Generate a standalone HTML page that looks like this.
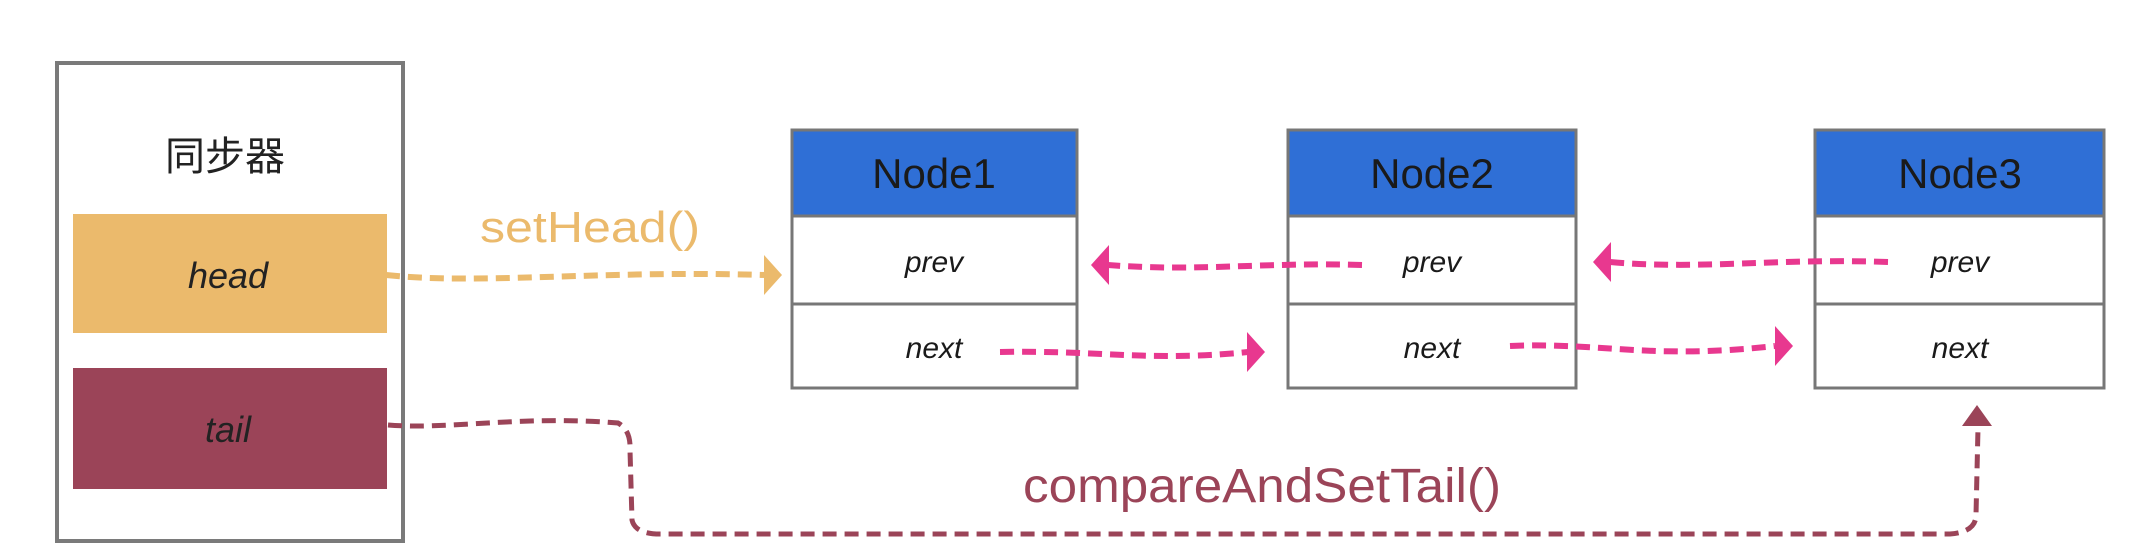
<!DOCTYPE html>
<html><head><meta charset="utf-8"><style>
html,body{margin:0;padding:0;background:#fff;width:2152px;height:550px;overflow:hidden}
text{font-family:"Liberation Sans","Noto Sans CJK SC",sans-serif}
</style></head><body>
<svg width="2152" height="550" viewBox="0 0 2152 550" xmlns="http://www.w3.org/2000/svg">
<!-- synchronizer box -->
<rect x="57" y="63" width="346" height="478" fill="#fff" stroke="#7a7a7a" stroke-width="4"/>
<text x="225" y="170" font-size="40" text-anchor="middle" fill="#222">同步器</text>
<rect x="73" y="214" width="314" height="119" fill="#ebba6c"/>
<text x="228" y="288" font-size="36" text-anchor="middle" fill="#222" font-style="italic">head</text>
<rect x="73" y="368" width="314" height="121" fill="#9b4458"/>
<text x="228" y="442" font-size="36" text-anchor="middle" fill="#222" font-style="italic">tail</text>

<!-- nodes -->
<g stroke="#777" stroke-width="3">
<rect x="792" y="130" width="285" height="86" fill="#2f6fd6"/>
<rect x="792" y="216" width="285" height="88" fill="#fff"/>
<rect x="792" y="304" width="285" height="84" fill="#fff"/>
<rect x="1288" y="130" width="288" height="86" fill="#2f6fd6"/>
<rect x="1288" y="216" width="288" height="88" fill="#fff"/>
<rect x="1288" y="304" width="288" height="84" fill="#fff"/>
<rect x="1815" y="130" width="289" height="86" fill="#2f6fd6"/>
<rect x="1815" y="216" width="289" height="88" fill="#fff"/>
<rect x="1815" y="304" width="289" height="84" fill="#fff"/>
</g>
<g font-size="42" text-anchor="middle" fill="#1a1a1a">
<text x="934" y="188">Node1</text>
<text x="1432" y="188">Node2</text>
<text x="1960" y="188">Node3</text>
</g>
<g font-size="30" text-anchor="middle" fill="#1a1a1a" font-style="italic">
<text x="934" y="272">prev</text>
<text x="934" y="358">next</text>
<text x="1432" y="272">prev</text>
<text x="1432" y="358">next</text>
<text x="1960" y="272">prev</text>
<text x="1960" y="358">next</text>
</g>

<!-- setHead -->
<text x="480" y="242" font-size="44" fill="#ebba6c" textLength="220" lengthAdjust="spacingAndGlyphs">setHead()</text>
<path d="M386,275 C480,285 600,270 765,275" fill="none" stroke="#ebba6c" stroke-width="6" stroke-dasharray="14,8"/>
<path d="M782,275 L764,255 L764,295 Z" fill="#ebba6c"/>

<!-- next/prev arrows -->
<g fill="none" stroke="#e8388f" stroke-width="6" stroke-dasharray="14,8">
<path d="M1000,352 C1100,350 1150,362 1248,352"/>
<path d="M1510,346 C1600,342 1650,360 1775,346"/>
<path d="M1362,265 C1260,262 1200,272 1108,265"/>
<path d="M1888,262 C1780,258 1700,270 1610,262"/>
</g>
<g fill="#e8388f">
<path d="M1265,352 L1247,332 L1247,372 Z"/>
<path d="M1793,346 L1775,326 L1775,366 Z"/>
<path d="M1091,265 L1109,245 L1109,285 Z"/>
<path d="M1593,262 L1611,242 L1611,282 Z"/>
</g>

<!-- tail arrow -->
<path d="M388,425 C450,430 520,415 618,423 Q631,430 630,450 L632,520 Q635,534 660,534 L1950,534 Q1976,532 1976,515 L1978,428" fill="none" stroke="#9b4458" stroke-width="5" stroke-dasharray="14,8"/>
<path d="M1977,405 L1962,426 L1992,426 Z" fill="#9b4458"/>
<text x="1023" y="502" font-size="48" fill="#9b4458" textLength="478" lengthAdjust="spacingAndGlyphs">compareAndSetTail()</text>
</svg>
</body></html>
